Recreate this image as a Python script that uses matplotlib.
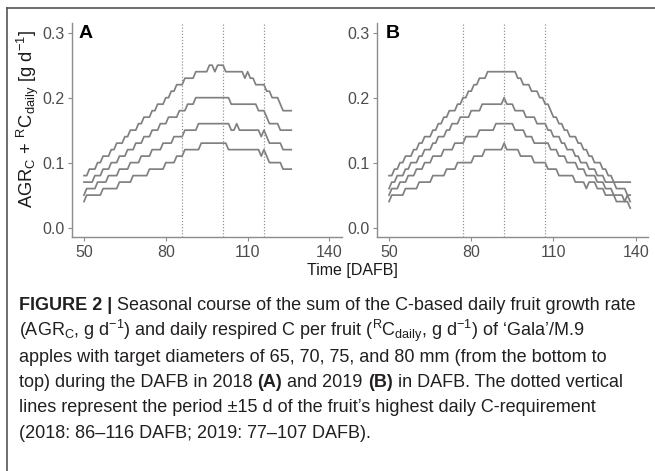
import numpy as np
import matplotlib
matplotlib.use("Agg")
import matplotlib.pyplot as plt
from matplotlib.lines import Line2D

plt.rcParams['font.family'] = ['Liberation Sans', 'DejaVu Sans']
plt.rcParams['mathtext.fontset'] = 'custom'
plt.rcParams['mathtext.rm'] = 'Liberation Sans'
plt.rcParams['mathtext.it'] = 'Liberation Sans:italic'
plt.rcParams['mathtext.bf'] = 'Liberation Sans:bold'
plt.rcParams['mathtext.default'] = 'regular'

# ---------------- data ----------------
first_day = 50
last_day_2018 = 126
last_day_2019 = 138

# 2018 (panel A), daily values from DAFB 50 to 126
a_80mm = [.08,.08,.09,.09,.09,.10,.10,.11,.11,.11,
          .12,.12,.13,.13,.13,.14,.14,.15,.15,.15,
          .16,.16,.17,.17,.17,.18,.18,.19,.19,.19,
          .20,.20,.21,.21,.22,.22,.22,.23,.23,.23,
          .23,.24,.24,.24,.24,.24,.25,.25,.24,.25,
          .25,.25,.24,.24,.24,.24,.24,.24,.24,.23,
          .24,.23,.23,.22,.22,.22,.22,.21,.21,.20,
          .20,.20,.19,.18,.18,.18,.18]
a_75mm = [.07,.07,.07,.07,.08,.08,.08,.09,.09,.09,
          .10,.10,.10,.11,.11,.11,.12,.12,.12,.13,
          .13,.13,.14,.14,.14,.15,.15,.15,.16,.16,
          .16,.17,.17,.17,.17,.18,.18,.18,.19,.19,
          .19,.20,.20,.20,.20,.20,.20,.20,.20,.20,
          .20,.20,.20,.20,.19,.19,.19,.19,.19,.19,
          .19,.19,.19,.19,.18,.18,.18,.17,.16,.16,
          .16,.16,.15,.15,.15,.15,.15]
a_70mm = [.05,.06,.06,.06,.06,.07,.07,.07,.07,.08,
          .08,.08,.08,.09,.09,.09,.09,.10,.10,.10,
          .10,.11,.11,.11,.11,.12,.12,.12,.12,.13,
          .13,.13,.13,.14,.14,.14,.14,.15,.15,.15,
          .15,.15,.16,.16,.16,.16,.16,.16,.16,.16,
          .16,.16,.16,.16,.15,.15,.16,.15,.15,.15,
          .15,.15,.15,.15,.15,.14,.15,.14,.13,.13,
          .13,.13,.13,.12,.12,.12,.12]
a_65mm = [.04,.05,.05,.05,.05,.05,.05,.06,.06,.06,
          .06,.06,.06,.07,.07,.07,.07,.07,.08,.08,
          .08,.08,.08,.08,.09,.09,.09,.09,.09,.09,
          .10,.10,.10,.10,.11,.11,.11,.12,.12,.12,
          .12,.12,.12,.13,.13,.13,.13,.13,.13,.13,
          .13,.13,.13,.12,.12,.12,.12,.12,.12,.12,
          .12,.12,.12,.12,.12,.11,.12,.11,.10,.10,
          .10,.10,.10,.09,.09,.09,.09]

# 2019 (panel B), daily values from DAFB 50 to 138
b_80mm = [.08,.08,.09,.09,.10,.10,.11,.11,.11,.12,
          .12,.13,.13,.14,.14,.14,.15,.15,.16,.16,
          .17,.17,.18,.18,.18,.19,.19,.20,.20,.21,
          .21,.22,.22,.23,.23,.23,.24,.24,.24,.24,
          .24,.24,.24,.24,.24,.24,.24,.23,.23,.22,
          .22,.22,.21,.21,.21,.20,.20,.19,.19,.18,
          .17,.17,.16,.16,.15,.15,.14,.14,.14,.13,
          .13,.12,.12,.11,.11,.10,.10,.10,.09,.09,
          .08,.08,.07,.07,.07,.07,.07,.07,.07]
b_75mm = [.06,.07,.07,.08,.08,.08,.09,.09,.10,.10,
          .10,.11,.11,.12,.12,.12,.13,.13,.14,.14,
          .14,.15,.15,.16,.16,.16,.17,.17,.17,.17,
          .18,.18,.18,.18,.19,.19,.19,.19,.19,.19,
          .19,.19,.20,.19,.19,.19,.18,.18,.18,.18,
          .17,.17,.17,.17,.16,.16,.16,.16,.15,.15,
          .14,.14,.14,.13,.13,.12,.12,.12,.11,.11,
          .10,.10,.10,.09,.09,.09,.08,.08,.08,.07,
          .07,.07,.07,.06,.06,.06,.06,.05,.05]
b_70mm = [.05,.06,.06,.06,.07,.07,.07,.08,.08,.08,
          .09,.09,.09,.10,.10,.10,.11,.11,.11,.11,
          .12,.12,.12,.12,.13,.13,.13,.13,.14,.14,
          .14,.14,.14,.15,.15,.15,.15,.15,.15,.16,
          .16,.16,.16,.16,.16,.16,.15,.15,.15,.15,
          .14,.14,.14,.13,.13,.13,.13,.13,.13,.12,
          .12,.12,.11,.11,.11,.10,.10,.10,.10,.09,
          .09,.09,.08,.08,.08,.08,.07,.07,.07,.06,
          .06,.06,.05,.05,.05,.05,.04,.05,.04]
b_65mm = [.04,.05,.05,.05,.05,.05,.06,.06,.06,.06,
          .06,.07,.07,.07,.07,.07,.08,.08,.08,.08,
          .08,.09,.09,.09,.09,.10,.10,.10,.10,.10,
          .10,.11,.11,.11,.11,.12,.12,.12,.12,.12,
          .12,.12,.13,.12,.12,.12,.12,.12,.11,.11,
          .11,.11,.11,.10,.10,.10,.10,.10,.09,.09,
          .09,.09,.08,.08,.08,.08,.08,.08,.07,.07,
          .07,.07,.06,.07,.07,.07,.06,.06,.06,.05,
          .05,.05,.05,.04,.04,.04,.04,.04,.03]

vlines_2018 = [86, 101, 116]
vlines_2019 = [77, 92, 107]
x_ticks = [50, 80, 110, 140]
y_ticks = [0.0, 0.1, 0.2, 0.3]
y_tick_labels = ['0.0', '0.1', '0.2', '0.3']
panel_letters = ['A', 'B']

# ---------------- figure ----------------
W, H = 655, 471
fig = plt.figure(figsize=(W / 100, H / 100), dpi=100)
fig.patch.set_facecolor('white')


def fx(px):
    return px / W


def fy(py):
    return 1 - py / H


line_col = '#808080'
axis_col = '#8c8c8c'
tick_txt = '#4d4d4d'


def make_axes(left, right, series, last_day, vlines):
    ax = fig.add_axes([fx(left), fy(237.3), fx(right) - fx(left), fy(23) - fy(237.3)])
    days = np.arange(first_day, last_day + 1)
    for s in series:
        ax.plot(days, s, color=line_col, lw=1.25, solid_joinstyle='round')
    for v in vlines:
        ax.axvline(v, color='#8f8f8f', lw=0.85, ls=(0, (1, 1.6)))
    ax.set_xlim(45.5, 144.5)
    ax.set_ylim(-0.015, 0.315)
    ax.set_xticks(x_ticks)
    ax.set_xticklabels([str(t) for t in x_ticks])
    ax.set_yticks(y_ticks)
    ax.set_yticklabels(y_tick_labels)
    for sp in ['top', 'right']:
        ax.spines[sp].set_visible(False)
    for sp in ['left', 'bottom']:
        ax.spines[sp].set_color(axis_col)
        ax.spines[sp].set_linewidth(1.0)
    ax.tick_params(axis='both', color=axis_col, length=3, width=0.8,
                   labelsize=11.5, labelcolor=tick_txt, direction='out')
    ax.tick_params(axis='y', pad=2)
    ax.tick_params(axis='x', pad=2.5)
    ax.set_facecolor('none')
    return ax


axA = make_axes(71.7, 341.7, [a_80mm, a_75mm, a_70mm, a_65mm], last_day_2018, vlines_2018)
axB = make_axes(376.7, 648.0, [b_80mm, b_75mm, b_70mm, b_65mm], last_day_2019, vlines_2019)

fig.text(fx(79), fy(38.5), panel_letters[0], fontsize=14, fontweight='bold',
         color='black', ha='left', va='baseline')
fig.text(fx(386), fy(38.5), panel_letters[1], fontsize=14, fontweight='bold',
         color='black', ha='left', va='baseline')

fig.text(fx(28), fy(119),
         r'AGR$_{C}$ + $^{R}$C$_{daily}$ [g d$^{-1}$]',
         rotation=90, fontsize=13.2, color='#1a1a1a', ha='center', va='center')
fig.text(fx(352), fy(270), 'Time [DAFB]', fontsize=11.5, color='#1a1a1a',
         ha='center', va='center')

# frame
fig.add_artist(Line2D([fx(6.5), 1.0], [fy(7.5), fy(7.5)], transform=fig.transFigure,
                      color='#555555', lw=1.2))
fig.add_artist(Line2D([fx(6.5), fx(6.5)], [fy(7.5), 0.0], transform=fig.transFigure,
                      color='#555555', lw=1.2))

# caption
cap_col = '#231f20'
caption_lines = [
    [('FIGURE 2 |', 'bold'), (' Seasonal course of the sum of the C-based daily fruit growth rate', 'normal')],
    [('(AGR$_{C}$, g d$^{-1}$) and daily respired C per fruit ($^{R}$C$_{daily}$, g d$^{-1}$) of \u2018Gala\u2019/M.9', 'normal')],
    [('apples with target diameters of 65, 70, 75, and 80 mm (from the bottom to', 'normal')],
    [('top) during the DAFB in 2018 ', 'normal'), ('(A)', 'bold'), (' and 2019 ', 'normal'),
     ('(B)', 'bold'), (' in DAFB. The dotted vertical', 'normal')],
    [('lines represent the period \u00b115 d of the fruit\u2019s highest daily C-requirement', 'normal')],
    [('(2018: 86\u2013116 DAFB; 2019: 77\u2013107 DAFB).', 'normal')],
]

renderer = fig.canvas.get_renderer()


def draw_segments(segs, x0, y0, size, draw=True):
    x = x0
    made = []
    for text, weight in segs:
        t = fig.text(fx(x), fy(y0), text, fontsize=size, fontweight=weight,
                     color=cap_col, ha='left', va='baseline')
        bb = t.get_window_extent(renderer)
        x += bb.width
        made.append(t)
    if not draw:
        for t in made:
            t.remove()
    return x - x0


ref_size = 12.0
w1 = draw_segments(caption_lines[0], 19, 310, ref_size, draw=False)
cap_size = min(ref_size * 619.0 / w1, 13.0)

base_y = 310.5
step_y = 25.5
for i, segs in enumerate(caption_lines):
    draw_segments(segs, 19, base_y + i * step_y, cap_size)

fig.savefig('out.png', dpi=100, facecolor='white')
